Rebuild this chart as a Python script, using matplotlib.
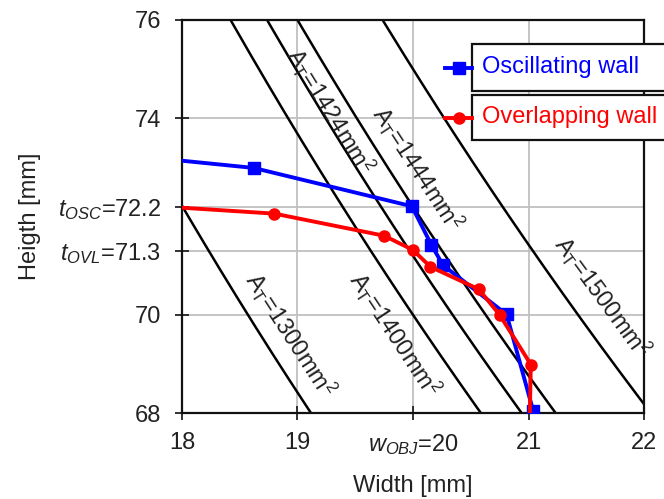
import numpy as np
import matplotlib
matplotlib.use("Agg")
import matplotlib.pyplot as plt
from matplotlib.patches import Rectangle
from matplotlib.lines import Line2D

plt.rcParams['font.family'] = ['Liberation Sans', 'DejaVu Sans']
plt.rcParams['mathtext.fontset'] = 'custom'
plt.rcParams['mathtext.rm'] = 'Liberation Sans'
plt.rcParams['mathtext.it'] = 'Liberation Sans:italic'
plt.rcParams['mathtext.bf'] = 'Liberation Sans:bold'

# ---- data ----
osc_w = [17.9, 18.62, 19.99, 20.16, 20.26, 20.81, 21.04]
osc_h = [73.16, 72.99, 72.21, 71.42, 71.01, 70.01, 68.05]
ovl_w = [17.9, 18.80, 19.75, 20.00, 20.15, 20.57, 20.75, 21.02, 21.01]
ovl_h = [72.195, 72.06, 71.61, 71.32, 70.98, 70.52, 70.00, 68.99, 67.9]
ovl_marker_idx = [1, 2, 3, 4, 5, 6, 7]
osc_marker_idx = [1, 2, 3, 4, 5, 6]

areas = [1300, 1400, 1424, 1444, 1500]
area_label_pos = {1300: (18.94, 69.59), 1400: (19.84, 69.59), 1424: (19.28, 74.14),
                  1444: (20.04, 72.96), 1500: (21.64, 70.37)}

xticks = [18, 19, 20, 21, 22]
xticklabels = ['18', '19', r'$\mathit{w}_{\mathit{OBJ}}$=20', '21', '22']
yticks = [68, 70, 71.3, 72.2, 74, 76]
yticklabels = ['68', '70', r'$\mathit{t}_{\mathit{OVL}}$=71.3', r'$\mathit{t}_{\mathit{OSC}}$=72.2', '74', '76']

fig = plt.figure(figsize=(6.64, 4.99), dpi=100)
ax = fig.add_axes([0.274, 0.172, 0.696, 0.788])
ax.set_xlim(18, 22)
ax.set_ylim(68, 76)

ax.set_xticks(xticks)
ax.set_xticklabels(xticklabels)
ax.set_yticks(yticks)
ax.set_yticklabels(yticklabels)
ax.tick_params(direction='inout', length=10, width=1.3, labelsize=17, colors='#222222')
ax.tick_params(axis='x', pad=8.5)
ax.tick_params(axis='y', pad=10)
ax.grid(True, color='#c0c0c0', lw=1.3)
ax.set_axisbelow(True)
for s in ax.spines.values():
    s.set_linewidth(1.6)
    s.set_color('#111111')

ax.set_xlabel('Width [mm]', fontsize=17, color='#222222', labelpad=13)
ax.set_ylabel('Heigth [mm]', fontsize=17, color='#222222', labelpad=12)

wgrid = np.linspace(17.5, 22.5, 400)
for A in areas:
    ax.plot(wgrid, A / wgrid, color='black', lw=1.8, zorder=2)
    xl, yl = area_label_pos[A]
    slope = -A / xl ** 2
    ang = np.degrees(np.arctan(slope))
    ax.text(xl, yl, r'A$_\mathrm{T}$=%dmm$^2$' % A, fontsize=17, color='#222222',
            rotation=ang, transform_rotates_text=True, rotation_mode='anchor',
            ha='center', va='center', zorder=3)

ax.plot(osc_w, osc_h, color='#0000ff', lw=2.8, marker='s', ms=8,
        markevery=osc_marker_idx, zorder=4)
ax.plot(ovl_w, ovl_h, color='#ff0000', lw=2.8, marker='o', ms=8,
        markevery=ovl_marker_idx, zorder=5)

# ---- custom legend (separate boxes, handles outside) ----
W, H = 664, 499
def fx(px):
    return px / W
def fy(py):
    return 1 - py / H

entries = [('Oscillating wall', '#0000ff', 's', 44, 91),
           ('Overlapping wall', '#ff0000', 'o', 95, 140)]
for label, col, mk, top, bot in entries:
    rect = Rectangle((fx(472), fy(bot)), fx(690) - fx(472), fy(top) - fy(bot),
                     transform=fig.transFigure, facecolor='white', edgecolor='#111111',
                     lw=1.6, zorder=10, clip_on=False)
    fig.patches.append(rect)
    yc = fy((top + bot) / 2)
    fig.add_artist(Line2D([fx(445), fx(472)], [yc, yc], color=col, lw=2.8,
                          transform=fig.transFigure, zorder=11))
    fig.add_artist(Line2D([fx(459)], [yc], color=col, marker=mk, ms=8,
                          transform=fig.transFigure, zorder=11))
    fig.text(fx(482), yc, label, color=col, fontsize=17, ha='left', va='center',
             zorder=12)

fig.savefig('out.png', dpi=100)
